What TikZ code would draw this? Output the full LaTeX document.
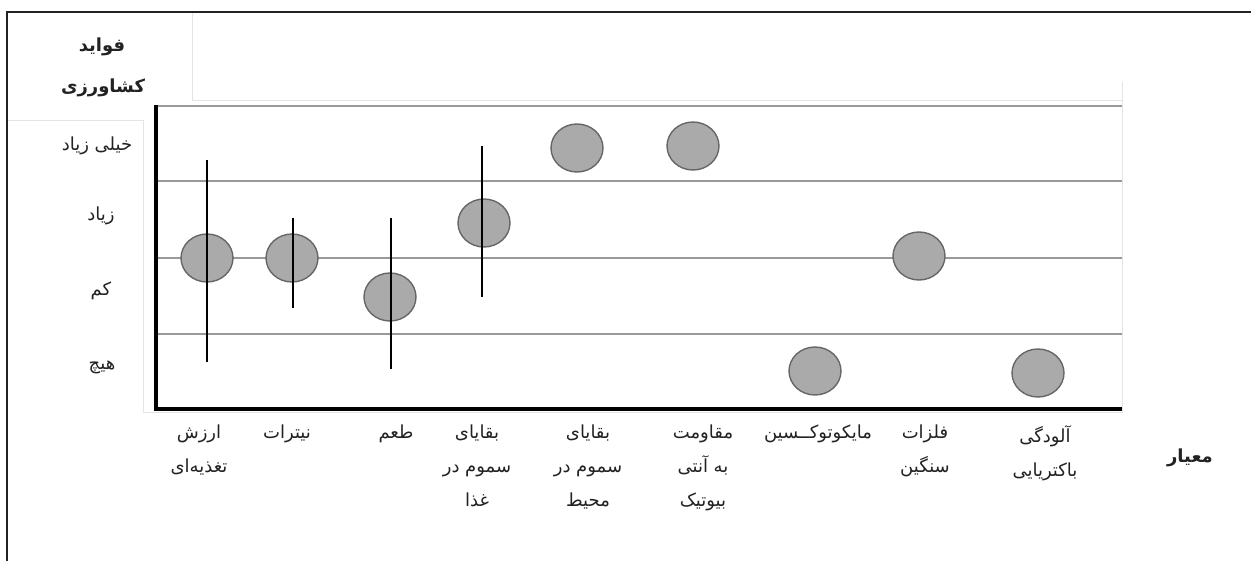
\documentclass[tikz,border=0pt]{standalone}
\usepackage{fontspec}
\usetikzlibrary{shapes.geometric}
\newfontfamily\fa[Script=Arabic]{DejaVu Sans}
\TeXXeTstate=1
\newcommand\myR[1]{\beginR #1\endR}
\definecolor{frame}{HTML}{222222}
\definecolor{grid}{HTML}{999999}
\definecolor{faint}{HTML}{E4E4E4}
\definecolor{dotfill}{HTML}{AAAAAA}
\definecolor{dotline}{HTML}{666666}
\definecolor{txt}{HTML}{222222}
\tikzset{
  dot/.style={ellipse, minimum width=52pt, minimum height=48pt, inner sep=0, fill=dotfill, draw=dotline, line width=1.4pt},
  bar/.style={line width=2.8pt, black},
  gridline/.style={grid, line width=1.4pt},
  axis/.style={black, line width=3.8pt},
  faintline/.style={faint, line width=0.8pt},
  xlab/.style={anchor=north, align=center, inner sep=0, text=txt, font=\fa\fontsize{18}{34}\selectfont},
  ylab/.style={anchor=center, inner sep=0, text=txt, font=\fa\fontsize{18}{20}\selectfont},
  head/.style={anchor=center, inner sep=0, text=txt, font=\fa\bfseries\fontsize{18}{20}\selectfont},
}
\begin{document}
\begin{tikzpicture}[x=1pt,y=-1pt]
\useasboundingbox (0,0) rectangle (1251,561);
\fill[white] (0,0) rectangle (1251,561);
% faint table cell lines
\draw[faintline] (192,12) -- (192,100) -- (1122,100);
\draw[faintline] (7,120) -- (143,120) -- (143,412) -- (1122,412) -- (1122,82);
% outer frame
\draw[frame, line width=2.4pt] (1251,12) -- (7,12) -- (7,561);
% grid lines
\draw[gridline] (155,106) -- (1122,106);
\draw[gridline] (155,181) -- (1122,181);
\draw[gridline] (155,258) -- (1122,258);
\draw[gridline] (155,334) -- (1122,334);
% axes
\draw[axis] (156,105) -- (156,409) -- (1122,409);
% header
\node[head] (h1) at (102,47) {\myR{فواید}};
\node[head] (h2) at (103,88) {\myR{کشاورزی}};
% y labels
\node[ylab] (y1) at (97,146) {\myR{خیلی زیاد}};
\node[ylab] (y2) at (101,216) {\myR{زیاد}};
\node[ylab] (y3) at (101,291) {\myR{کم}};
\node[ylab] (y4) at (102,367) {\myR{هیچ}};
% error bars
\coordinate (b1t) at (207,160); \coordinate (b1b) at (207,362);
\coordinate (b2t) at (293,218); \coordinate (b2b) at (293,308);
\coordinate (b3t) at (391,218); \coordinate (b3b) at (391,369);
\coordinate (b4t) at (482,146); \coordinate (b4b) at (482,297);
% dots
\node[dot] (p1) at (207,258) {};
\node[dot] (p2) at (292,258) {};
\node[dot] (p3) at (390,297) {};
\node[dot] (p4) at (484,223) {};
\node[dot] (p5) at (577,148) {};
\node[dot] (p6) at (693,146) {};
\node[dot] (p7) at (815,371) {};
\node[dot] (p8) at (919,256) {};
\node[dot] (p9) at (1038,373) {};
\draw[bar] (b1t) -- (b1b);
\draw[bar] (b2t) -- (b2b);
\draw[bar] (b3t) -- (b3b);
\draw[bar] (b4t) -- (b4b);
% x labels
\node[xlab] (l1) at (199,425) {\myR{ارزش}\\\myR{تغذیه‌ای}};
\node[xlab] (l2) at (287,425) {\myR{نیترات}};
\node[xlab] (l3) at (396,425) {\myR{طعم}};
\node[xlab] (l4) at (477,425) {\myR{بقایای}\\\myR{سموم در}\\\myR{غذا}};
\node[xlab] (l5) at (588,425) {\myR{بقایای}\\\myR{سموم در}\\\myR{محیط}};
\node[xlab] (l6) at (703,425) {\myR{مقاومت}\\\myR{به آنتی}\\\myR{بیوتیک}};
\node[xlab] (l7) at (818,425) {\myR{مایکوتوکــسین}};
\node[xlab] (l8) at (925,425) {\myR{فلزات}\\\myR{سنگین}};
\node[xlab] (l9) at (1045,425) {\myR{آلودگی}\\\myR{باکتریایی}};
\node[head] (crit) at (1190,458) {\myR{معیار}};
\end{tikzpicture}
\end{document}
